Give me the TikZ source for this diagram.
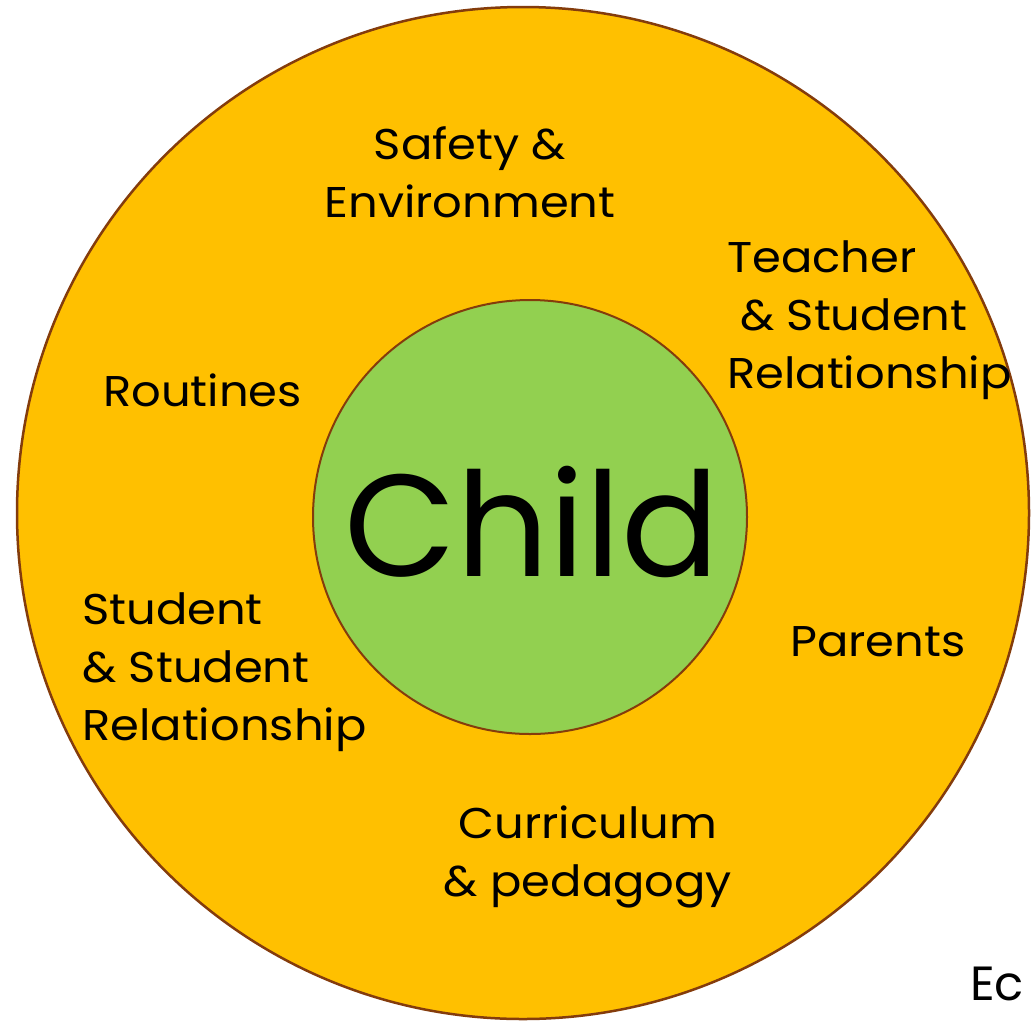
\documentclass[tikz,border=0pt]{standalone}
\usepackage{fontspec}
\setmainfont{Poppins}
\newfontfamily\lblfont[FakeStretch=1.08]{Poppins}
\definecolor{gold}{HTML}{FFC000}
\definecolor{leaf}{HTML}{92D050}
\definecolor{rim}{HTML}{843C0C}
\begin{document}
\begin{tikzpicture}[x=1pt,y=-1pt,
  lbl/.style={font=\lblfont\fontsize{43}{58}\selectfont, text=black, inner sep=0pt},
  ring/.style={draw=rim, line width=2.5pt}]
\useasboundingbox (0,0) rectangle (1033,1021);
\clip (0,0) rectangle (1033,1021);
\fill[white] (0,0) rectangle (1033,1021);
\node[ring, fill=gold, circle, minimum size=1012pt, inner sep=0pt] (outer) at (523,513) {};
\node[ring, line width=2pt, fill=leaf, circle, minimum size=434pt, inner sep=0pt] (inner) at (530,517) {};
\node[lbl, font=\fontsize{145}{145}\selectfont] (child) at (532,522) {Child};
\node[lbl, align=center] (safety) at (470,172) {Safety \&\\Environment};
\node[lbl, align=left, anchor=west] (teacher) at (727,320) {Teacher\\\hspace{0.3em}\& Student\\Relationship};
\node[lbl, anchor=west] (routines) at (103,390) {Routines};
\node[lbl, align=left, anchor=west] (student) at (82,672) {Student\\\& Student\\Relationship};
\node[lbl, anchor=west] (parents) at (790,642) {Parents};
\node[lbl, align=center] (curric) at (588,857) {Curriculum\\\& pedagogy};
\node[lbl, font=\fontsize{48}{58}\selectfont, anchor=base west] (eco) at (970,1000) {Ec};
\end{tikzpicture}
\end{document}
